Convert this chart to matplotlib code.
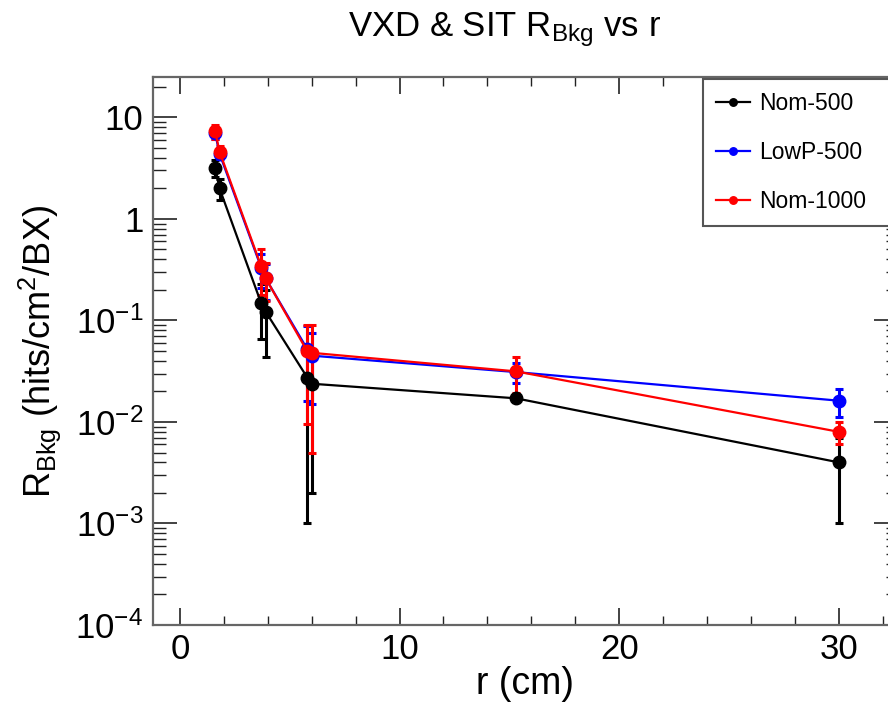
import matplotlib
matplotlib.use("Agg")
import matplotlib.pyplot as plt
import matplotlib.ticker as mtick
import numpy as np

plt.rcParams.update({
    "font.family": "Liberation Sans",
    "mathtext.default": "regular",
})

# layer radii (cm)
r = [1.6, 1.8, 3.7, 3.9, 5.8, 6.0, 15.3, 30.0]

nom500 = [3.2, 2.0, 0.147, 0.122, 0.0273, 0.0238, 0.0171, 0.004]
nom500_err = [0.6, 0.45, 0.082, 0.078, 0.0263, 0.0218, 0.001, 0.003]

lowp500 = [7.0, 4.4, 0.33, 0.26, 0.052, 0.045, 0.031, 0.0162]
lowp500_err = [0.9, 0.5, 0.12, 0.10, 0.036, 0.030, 0.007, 0.005]

nom1000 = [7.3, 4.6, 0.34, 0.26, 0.0495, 0.048, 0.0315, 0.008]
nom1000_err = [1.2, 0.6, 0.16, 0.105, 0.040, 0.043, 0.012, 0.002]

series = [
    ("Nom-500", nom500, nom500_err, "black"),
    ("LowP-500", lowp500, lowp500_err, "#0000ff"),
    ("Nom-1000", nom1000, nom1000_err, "#ff0000"),
]

W, H = 888, 711
fig = plt.figure(figsize=(W / 100, H / 100), dpi=100)
ax = fig.add_axes([153 / W, 1 - 625 / H, (898 - 153) / W, (625 - 77) / H])

for name, y, e, c in series:
    ax.errorbar(r, y, yerr=e, fmt="none", ecolor=c, elinewidth=2.2,
                capsize=3, capthick=2.2, zorder=2)
    ax.plot(r, y, "-o", color=c, lw=1.6, ms=9, label=name, zorder=3)

ax.set_yscale("log")
ax.set_xlim(-1.23, 32.7)
ax.set_ylim(1e-4, 25)

ax.xaxis.set_major_locator(mtick.MultipleLocator(10))
ax.xaxis.set_minor_locator(mtick.MultipleLocator(2))
ax.yaxis.set_major_locator(mtick.LogLocator(base=10, numticks=10))
ax.yaxis.set_minor_locator(mtick.LogLocator(base=10, subs=np.arange(2, 10), numticks=10))


def yfmt(v, _):
    p = int(round(np.log10(v)))
    if p == 1:
        return "10"
    if p == 0:
        return "1"
    return "10$^{-%d}$" % -p


ax.yaxis.set_major_formatter(mtick.FuncFormatter(yfmt))

ax.tick_params(which="both", direction="in", top=True, right=True,
               colors="#222222", labelcolor="black", labelsize=25)
ax.tick_params(axis="x", which="major", length=12, width=1.2, pad=6)
ax.tick_params(axis="x", which="minor", length=6.5, width=1.0)
ax.tick_params(axis="y", which="major", length=17, width=1.2, pad=7)
ax.tick_params(axis="y", which="minor", length=9, width=1.0)
for s in ax.spines.values():
    s.set_color("#666666")
    s.set_linewidth(1.6)

ax.set_xlabel("r (cm)", fontsize=27, labelpad=0)
ax.set_ylabel("R$_{Bkg}$ (hits/cm$^{2}$/BX)", fontsize=26, labelpad=9)

fig.text(505 / W, 1 - 30 / H, "VXD & SIT R$_{Bkg}$ vs r", ha="center",
         va="center", fontsize=25)

leg = ax.legend(loc="upper left", mode="expand",
                bbox_to_anchor=(703 / W, 1 - 223 / H, (930 - 703) / W, (223 - 79) / H),
                bbox_transform=fig.transFigure, borderaxespad=0,
                fontsize=16.5, markerscale=0.6, handlelength=1.5,
                handletextpad=0.4, labelspacing=1.15, borderpad=0.55,
                fancybox=False, framealpha=1)
leg.get_frame().set_edgecolor("#555555")
leg.get_frame().set_linewidth(1.5)

fig.savefig("out.png", dpi=100)
